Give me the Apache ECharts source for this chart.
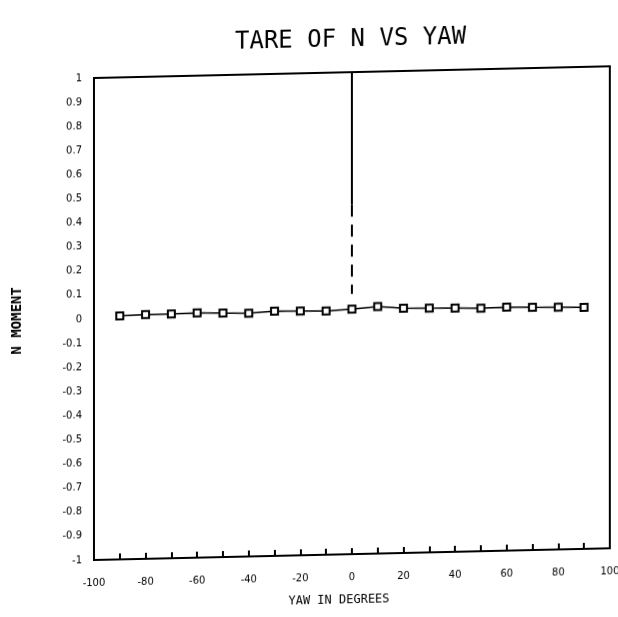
<!DOCTYPE html>
<html>
<head>
<meta charset="utf-8">
<script src="https://cdn.jsdelivr.net/npm/echarts@6/dist/echarts.min.js"></script>
<style>
  html, body { margin: 0; padding: 0; background: #fff; }
  /* the printed sheet sits slightly rotated: right side higher */
  #chart { width: 618px; height: 617px; transform: skewY(-1.3deg); transform-origin: 94px 320px; }
</style>
</head>
<body>
<div id="chart"></div>
<script>
// Yaw angles (degrees) and measured tare yawing moment N
const yawDeg = [-90, -80, -70, -60, -50, -40, -30, -20, -10, 0, 10, 20, 30, 40, 50, 60, 70, 80, 90];
const tareN  = [0.010, 0.013, 0.013, 0.016, 0.012, 0.009, 0.016, 0.014, 0.011, 0.017,
                0.025, 0.016, 0.013, 0.011, 0.008, 0.010, 0.007, 0.005, 0.002];
// Vertical reference at zero yaw: solid upper part, dashed lower part
const refSolid  = [[0, 1.0], [0, 0.45]];
const refDashed = [[0, 0.45], [0, 0.08]];
const xTicks = [-100, -80, -60, -40, -20, 0, 20, 40, 60, 80, 100];

const chart = echarts.init(document.getElementById('chart'), null, { renderer: 'canvas' });
const axisFont = { fontFamily: 'DejaVu Sans', fontSize: 10, color: '#000' };

chart.setOption({
  animation: false,
  backgroundColor: '#fff',
  title: {
    text: 'TARE OF N VS YAW',
    left: 230, top: 29,
    textStyle: { fontFamily: 'DejaVu Sans Mono', fontSize: 24, fontWeight: 'normal', color: '#000' }
  },
  grid: {
    left: 94, right: 8, top: 78, bottom: 57,
    containLabel: false, outerBoundsMode: 'none',
    show: true, borderColor: '#000', borderWidth: 2, backgroundColor: 'transparent'
  },
  xAxis: {
    type: 'value', min: -100, max: 100, interval: 20,
    name: 'YAW IN DEGREES', nameLocation: 'middle', nameGap: 40,
    nameTextStyle: { fontFamily: 'DejaVu Sans Mono', fontSize: 12, color: '#000', padding: [0, 26, 0, 0] },
    axisLine: { show: true, onZero: false, lineStyle: { color: '#000', width: 2 } },
    axisTick: { show: true, inside: true, length: 6, lineStyle: { color: '#000', width: 2 } },
    minorTick: { show: true, splitNumber: 2, length: 6, lineStyle: { color: '#000', width: 2 } },
    splitLine: { show: false },
    axisLabel: Object.assign({ margin: 18,
      formatter: v => xTicks.includes(v) ? String(v) : '' }, axisFont)
  },
  yAxis: {
    type: 'value', min: -1, max: 1, interval: 0.1,
    name: 'N MOMENT', nameLocation: 'middle', nameGap: 70,
    nameTextStyle: { fontFamily: 'DejaVu Sans Mono', fontSize: 14, fontWeight: 'bold', color: '#000' },
    axisLine: { show: true, onZero: false, lineStyle: { color: '#000', width: 2 } },
    axisTick: { show: false },
    splitLine: { show: false },
    axisLabel: Object.assign({ margin: 12,
      formatter: v => String(Math.round(v * 10) / 10) }, axisFont)
  },
  series: [
    {
      type: 'line', name: 'N',
      data: yawDeg.map((x, i) => [x, tareN[i]]),
      symbol: 'rect', symbolSize: 7,
      itemStyle: { color: '#fff', borderColor: '#000', borderWidth: 2 },
      lineStyle: { color: '#000', width: 1.5 }
    },
    {
      type: 'line', data: refSolid, symbol: 'none',
      lineStyle: { color: '#000', width: 2 }
    },
    {
      type: 'line', data: refDashed, symbol: 'none',
      lineStyle: { color: '#000', width: 2, type: [12, 8] }
    }
  ]
});
</script>
</body>
</html>
